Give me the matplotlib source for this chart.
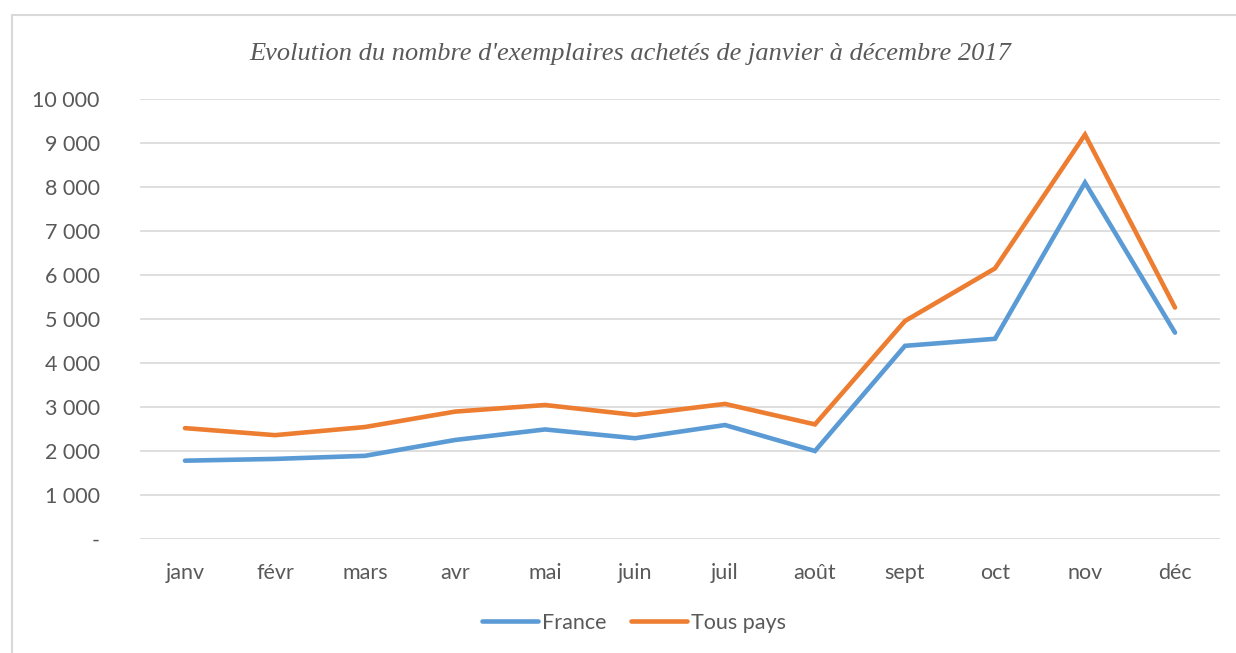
import matplotlib.pyplot as plt
from matplotlib.patches import Rectangle
from matplotlib.ticker import FuncFormatter

months = ['janv', 'févr', 'mars', 'avr', 'mai', 'juin', 'juil', 'août', 'sept', 'oct', 'nov', 'déc']
france = [1780, 1820, 1890, 2250, 2490, 2290, 2590, 2000, 4390, 4550, 8100, 4690]
tous_pays = [2520, 2360, 2545, 2895, 3045, 2820, 3070, 2605, 4955, 6150, 9190, 5260]

text_color = '#595959'
plt.rcParams['font.family'] = ['Lato', 'DejaVu Sans']

fig = plt.figure(figsize=(12.36, 6.53), dpi=100)
ax = fig.add_axes([140/1236, 114/653, 1080/1236, 440/653])

# chart border (only top and left visible in the crop)
fig.patches.append(Rectangle((12/1236, -0.05), 1.1, (653-15)/653 + 0.05,
                             transform=fig.transFigure, fill=False,
                             edgecolor='#d9d9d9', linewidth=1.5))

x = range(len(months))
ax.plot(x, france, color='#5B9BD5', linewidth=3.3, solid_capstyle='round',
        solid_joinstyle='miter', label='France')
ax.plot(x, tous_pays, color='#ED7D31', linewidth=3.3, solid_capstyle='round',
        solid_joinstyle='miter', label='Tous pays')

ax.set_xlim(-0.5, len(months) - 0.5)
ax.set_ylim(0, 10000)
ax.set_yticks(range(0, 10001, 1000))
ax.yaxis.set_major_formatter(FuncFormatter(
    lambda v, p: '-' if v == 0 else f'{int(v):,}'.replace(',', ' ')))
ax.set_xticks(list(x))
ax.set_xticklabels(months)
ax.tick_params(axis='both', length=0, labelsize=15.5, labelcolor=text_color)
ax.tick_params(axis='y', pad=29)
ax.tick_params(axis='x', pad=17)
ax.grid(axis='y', color='#d9d9d9', linewidth=1.2)
ax.set_axisbelow(True)
for s in ax.spines.values():
    s.set_visible(False)

fig.text(630/1236, 1 - 54/653, "Evolution du nombre d'exemplaires achetés de janvier à décembre 2017",
         ha='center', va='center', fontsize=19, style='italic',
         family='Liberation Serif', color=text_color)

leg = fig.legend(loc='center', bbox_to_anchor=(634/1236, 1 - 623/653), ncol=2,
                 frameon=False, fontsize=15.5, handlelength=2.6, handletextpad=0.2,
                 columnspacing=1.15)
for t in leg.get_texts():
    t.set_color(text_color)

plt.savefig('out.png', dpi=100)
